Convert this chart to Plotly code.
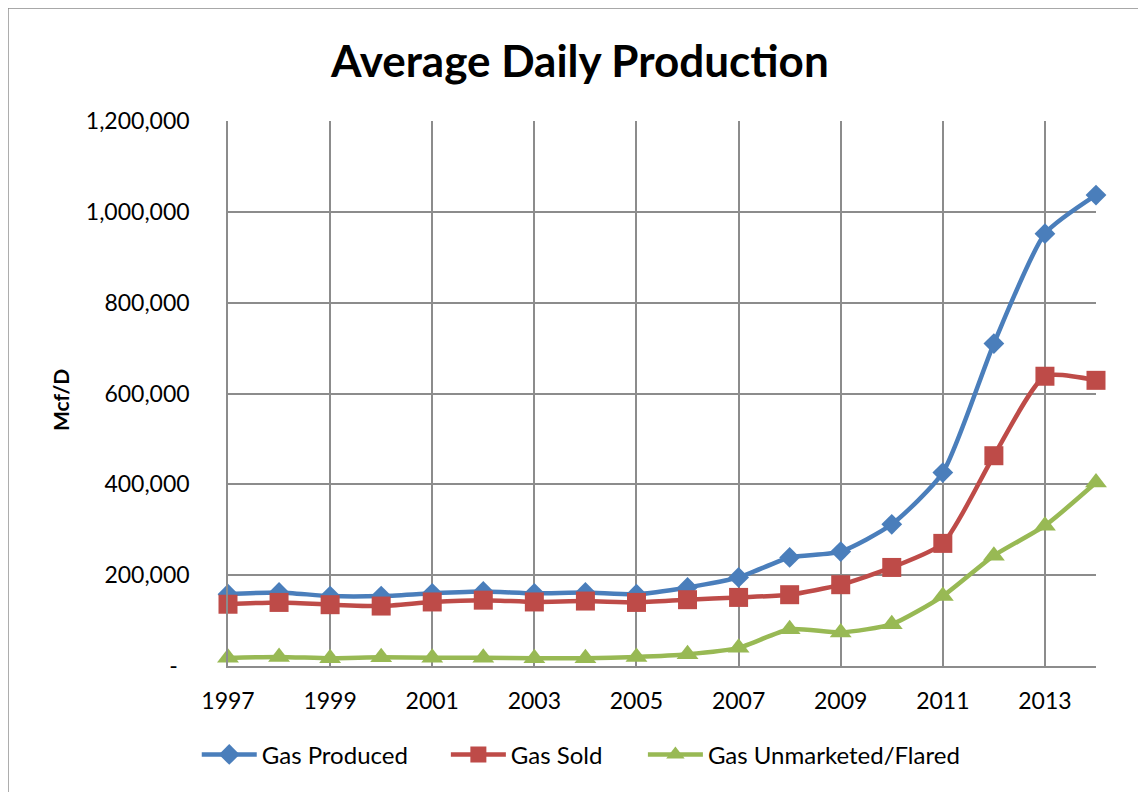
import plotly.graph_objects as go

years = list(range(1997, 2015))
gas_produced = [158000, 162000, 154000, 154000, 160000, 164000, 160000, 162000, 158000, 173000,
                195000, 239000, 252000, 312000, 426000, 710000, 952000, 1037000]
gas_sold = [136000, 140000, 135000, 132000, 141000, 145000, 141000, 143000, 140000, 146000,
            151000, 157000, 179000, 217000, 270000, 463000, 638000, 629000]
gas_flared = [18000, 20000, 17000, 19000, 18000, 18000, 17000, 17000, 20000, 26000,
              40000, 81000, 74000, 92000, 154000, 243000, 309000, 404000]

y_ticks = [0, 200000, 400000, 600000, 800000, 1000000, 1200000]
y_ticktext = ["-\u00a0\u00a0", "200,000", "400,000", "600,000", "800,000", "1,000,000", "1,200,000"]
x_ticks = list(range(1997, 2015, 2))

FONT = "Lato, 'Open Sans', sans-serif"
GRID = "#8C8C8C"

fig = go.Figure()
series = [
    ("Gas Produced", gas_produced, "#4A7EBB", "diamond", 16, "legend", -0.036),
    ("Gas Sold", gas_sold, "#BE4B48", "square", 19, "legend2", 0.251),
    ("Gas Unmarketed/Flared", gas_flared, "#98B954", "triangle-up", 19, "legend3", 0.478),
]
legend_cfg = {}
for name, vals, color, sym, sz, lg, lx in series:
    fig.add_trace(go.Scatter(
        x=years, y=vals, name=name, mode="lines+markers",
        line=dict(color=color, width=4.5, shape="spline", smoothing=0.6),
        marker=dict(symbol=sym, size=sz, color=color),
        cliponaxis=False, legend=lg,
    ))
    legend_cfg[lg] = dict(orientation="h", x=lx, xanchor="left", y=-0.163, yanchor="middle",
                          font=dict(size=24), itemwidth=55, bgcolor="rgba(0,0,0,0)")

# page body has an 8px margin; offsets below compensate for it
fig.update_layout(
    width=1146, height=792,
    margin=dict(l=220, r=58, t=113, b=134, autoexpand=False),
    paper_bgcolor="white", plot_bgcolor="white",
    font=dict(family=FONT, size=23, color="black"),
    title=dict(text="<b>Average Daily Production</b>", x=0.499, xanchor="center",
               y=0.932, yanchor="middle", font=dict(size=44, family=FONT)),
    showlegend=True,
    **legend_cfg,
    xaxis=dict(range=[1997, 2014], tickvals=x_ticks, ticktext=[str(v) for v in x_ticks],
               showgrid=True, gridcolor=GRID, gridwidth=1.5,
               showline=True, linecolor=GRID, linewidth=1.5,
               ticks="", zeroline=False, ticklabelstandoff=14,
               tickfont=dict(size=23)),
    yaxis=dict(range=[0, 1200000], tickvals=y_ticks, ticktext=y_ticktext,
               showgrid=True, gridcolor=GRID, gridwidth=1.5,
               showline=True, linecolor=GRID, linewidth=1.5,
               ticks="", zeroline=False, ticklabelstandoff=32,
               tickfont=dict(size=23)),
    annotations=[dict(text="<b>Mcf/D</b>", xref="paper", yref="paper",
                      x=-0.1935, y=0.488, xanchor="center", yanchor="middle",
                      textangle=-90, showarrow=False, font=dict(size=21))],
    shapes=[dict(type="rect", xref="paper", yref="paper",
                 x0=-0.2535, x1=1.2, y0=-0.5, y1=1.2073,
                 line=dict(color=GRID, width=1.5), fillcolor="rgba(0,0,0,0)", layer="below")],
)

fig.write_html("out.html")
